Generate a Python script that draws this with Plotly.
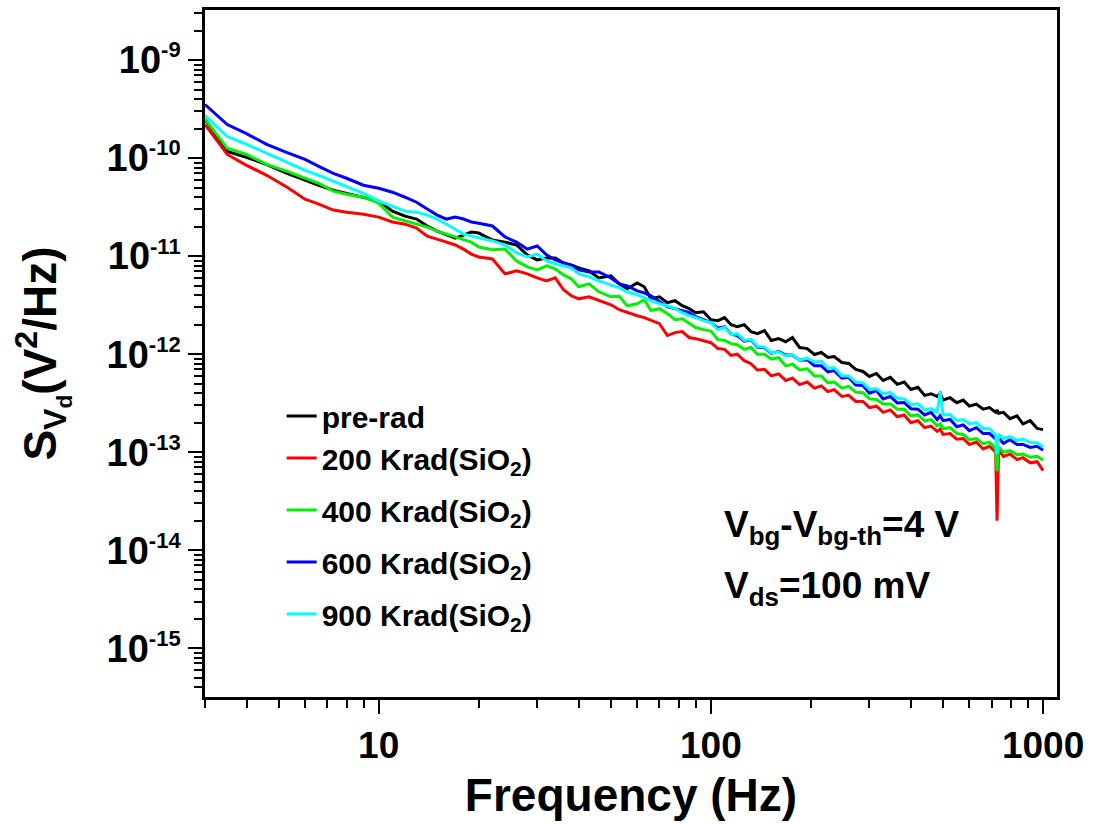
import plotly.graph_objects as go

freq = [3, 3.5, 4, 4.6, 5.3, 6, 6.6, 7.3, 8, 9,
        10, 11, 12, 13, 14, 15, 16, 17, 18, 19, 20,
        22, 24, 26, 28, 30, 32, 34, 36, 38, 40,
        43, 46, 50, 53, 56, 60, 63, 66, 70, 74,
        78, 82, 86, 90, 95, 100, 105, 110, 115, 120,
        126, 132, 138, 145, 152, 160, 168, 176, 185, 195,
        205, 215, 225, 235, 248, 260, 273, 287, 300, 315,
        330, 347, 364, 382, 400, 420, 440, 460, 480, 490,
        500, 525, 550, 575, 600, 630, 660, 690, 720, 727,
        735, 760, 795, 835, 870, 915, 960, 1000]

s_prerad = [2.48e-10, 1.17e-10, 1.02e-10, 8.6e-11, 7.0e-11, 5.94e-11, 5.29e-11, 4.70e-11, 4.38e-11, 3.99e-11,
            3.64e-11, 2.88e-11, 2.56e-11, 2.39e-11, 2.03e-11, 1.80e-11, 1.64e-11, 1.53e-11, 1.64e-11, 1.76e-11, 1.72e-11,
            1.46e-11, 1.39e-11, 1.30e-11, 1.03e-11, 9.15e-12, 9.59e-12, 9.6e-12, 8.53e-12, 8.14e-12, 7.59e-12,
            7.07e-12, 6.00e-12, 6.29e-12, 5.22e-12, 4.64e-12, 5.34e-12, 4.87e-12, 3.67e-12, 3.85e-12, 3.35e-12,
            3.51e-12, 3.12e-12, 2.91e-12, 2.65e-12, 2.71e-12, 2.25e-12, 2.20e-12, 2.36e-12, 2.00e-12, 1.91e-12,
            2.00e-12, 1.70e-12, 1.62e-12, 1.74e-12, 1.38e-12, 1.44e-12, 1.34e-12, 1.48e-12, 1.17e-12, 1.14e-12,
            9.92e-13, 1.04e-12, 9.25e-13, 9.46e-13, 8.23e-13, 8.04e-13, 6.98e-13, 6.66e-13, 5.93e-13, 6.36e-13,
            5.4e-13, 5.8e-13, 4.92e-13, 5.2e-13, 4.37e-13, 4.6e-13, 3.80e-13, 3.95e-13, 3.7e-13, 4.0e-13,
            3.4e-13, 3.6e-13, 3.2e-13, 3.4e-13, 2.95e-13, 3.1e-13, 2.75e-13, 2.85e-13, 2.55e-13, 2.7e-13,
            2.5e-13, 2.55e-13, 2.2e-13, 2.35e-13, 1.95e-13, 2.1e-13, 1.75e-13, 1.7e-13]

s_200k = [2.20e-10, 1.09e-10, 8.44e-11, 6.68e-11, 5.05e-11, 3.81e-11, 3.39e-11, 2.95e-11, 2.81e-11, 2.68e-11,
          2.50e-11, 2.23e-11, 2.12e-11, 1.93e-11, 1.60e-11, 1.50e-11, 1.39e-11, 1.30e-11, 1.18e-11, 1.05e-11, 9.81e-12,
          9.37e-12, 6.59e-12, 7.07e-12, 6.59e-12, 6.00e-12, 5.60e-12, 6.00e-12, 4.54e-12, 3.94e-12, 3.67e-12,
          3.85e-12, 3.51e-12, 3.19e-12, 2.84e-12, 2.65e-12, 2.47e-12, 2.36e-12, 2.20e-12, 2.05e-12, 1.55e-12,
          1.66e-12, 1.70e-12, 1.48e-12, 1.44e-12, 1.38e-12, 1.31e-12, 1.14e-12, 1.12e-12, 9.7e-13, 1.0e-12,
          8.6e-13, 8.0e-13, 6.9e-13, 7.0e-13, 6.0e-13, 6.3e-13, 5.4e-13, 5.7e-13, 4.9e-13, 5.2e-13,
          4.5e-13, 4.75e-13, 4.15e-13, 4.35e-13, 3.7e-13, 3.8e-13, 3.3e-13, 3.3e-13, 2.85e-13, 2.95e-13,
          2.55e-13, 2.7e-13, 2.3e-13, 2.4e-13, 2.0e-13, 2.1e-13, 1.78e-13, 1.85e-13, 1.63e-13, 1.72e-13,
          1.52e-13, 1.55e-13, 1.36e-13, 1.38e-13, 1.2e-13, 1.27e-13, 1.08e-13, 1.15e-13, 1.0e-13, 2.0e-14,
          1.06e-13, 9.0e-14, 9.6e-14, 8.4e-14, 8.8e-14, 7.8e-14, 8.0e-14, 6.5e-14]

s_400k = [2.5e-10, 1.26e-10, 1.09e-10, 8.64e-11, 7.34e-11, 6.23e-11, 5.54e-11, 4.60e-11, 4.28e-11, 3.99e-11,
          3.47e-11, 2.50e-11, 2.28e-11, 2.12e-11, 1.98e-11, 1.80e-11, 1.68e-11, 1.57e-11, 1.50e-11, 1.39e-11, 1.24e-11,
          1.16e-11, 1.18e-11, 8.94e-12, 7.77e-12, 7.24e-12, 7.95e-12, 7.41e-12, 6.44e-12, 5.87e-12, 4.87e-12,
          5.22e-12, 4.33e-12, 3.85e-12, 3.9e-12, 3.12e-12, 3.27e-12, 3.59e-12, 2.78e-12, 2.91e-12, 2.59e-12,
          2.25e-12, 2.30e-12, 2.05e-12, 1.87e-12, 1.78e-12, 1.72e-12, 1.41e-12, 1.38e-12, 1.28e-12, 1.25e-12,
          1.12e-12, 1.17e-12, 1.0e-12, 1.0e-12, 8.9e-13, 9.2e-13, 7.6e-13, 7.9e-13, 6.9e-13, 7.1e-13,
          6.0e-13, 6.0e-13, 5.1e-13, 5.2e-13, 4.5e-13, 4.7e-13, 4.1e-13, 4.05e-13, 3.5e-13, 3.45e-13,
          3.1e-13, 3.1e-13, 2.75e-13, 2.75e-13, 2.35e-13, 2.4e-13, 2.08e-13, 2.15e-13, 1.86e-13, 1.95e-13,
          1.74e-13, 1.78e-13, 1.55e-13, 1.52e-13, 1.34e-13, 1.38e-13, 1.22e-13, 1.26e-13, 1.1e-13, 6.4e-14,
          1.13e-13, 1.0e-13, 1.04e-13, 9.4e-14, 9.6e-14, 8.9e-14, 9.1e-14, 8.3e-14]

s_600k = [3.52e-10, 2.20e-10, 1.78e-10, 1.38e-10, 1.14e-10, 9.71e-11, 8.25e-11, 7.00e-11, 6.23e-11, 5.29e-11,
          4.93e-11, 4.49e-11, 3.99e-11, 3.55e-11, 3.02e-11, 2.62e-11, 2.39e-11, 2.50e-11, 2.39e-11, 2.23e-11, 2.17e-11,
          2.03e-11, 1.57e-11, 1.39e-11, 1.18e-11, 1.27e-11, 1.03e-11, 9.15e-12, 8.53e-12, 7.95e-12, 7.24e-12,
          6.91e-12, 6.91e-12, 6.00e-12, 5.22e-12, 4.98e-12, 4.43e-12, 4.23e-12, 3.94e-12, 3.42e-12, 3.05e-12,
          2.91e-12, 2.78e-12, 2.65e-12, 2.41e-12, 2.25e-12, 2.1e-12, 1.85e-12, 1.9e-12, 1.6e-12, 1.55e-12,
          1.36e-12, 1.4e-12, 1.18e-12, 1.16e-12, 1.02e-12, 1.07e-12, 9.8e-13, 9.8e-13, 8.7e-13, 8.8e-13,
          7.6e-13, 7.6e-13, 6.6e-13, 6.8e-13, 5.7e-13, 5.8e-13, 4.85e-13, 4.8e-13, 4.0e-13, 4.25e-13,
          3.5e-13, 3.7e-13, 3.18e-13, 3.22e-13, 2.78e-13, 2.75e-13, 2.4e-13, 2.55e-13, 2.15e-13, 2.35e-13,
          2.1e-13, 2.16e-13, 1.82e-13, 1.9e-13, 1.66e-13, 1.78e-13, 1.55e-13, 1.55e-13, 1.37e-13, 1.4e-13,
          1.4e-13, 1.23e-13, 1.34e-13, 1.2e-13, 1.2e-13, 1.12e-13, 1.15e-13, 1.05e-13]

s_900k = [2.72e-10, 1.66e-10, 1.38e-10, 1.12e-10, 9.05e-11, 7.51e-11, 6.68e-11, 5.80e-11, 5.16e-11, 4.38e-11,
          3.64e-11, 3.24e-11, 2.88e-11, 2.81e-11, 2.62e-11, 2.39e-11, 2.12e-11, 1.89e-11, 1.68e-11, 1.60e-11, 1.53e-11,
          1.43e-11, 1.30e-11, 1.08e-11, 9.81e-12, 1.05e-11, 8.94e-12, 8.33e-12, 7.95e-12, 7.59e-12, 6.59e-12,
          6.15e-12, 5.60e-12, 5.10e-12, 4.75e-12, 4.33e-12, 4.04e-12, 3.76e-12, 3.51e-12, 3.27e-12, 3.12e-12,
          2.91e-12, 2.65e-12, 2.47e-12, 2.36e-12, 2.20e-12, 2.1e-12, 1.78e-12, 1.88e-12, 1.58e-12, 1.62e-12,
          1.38e-12, 1.42e-12, 1.2e-12, 1.18e-12, 1.03e-12, 1.06e-12, 9.6e-13, 9.9e-13, 8.7e-13, 9.1e-13,
          8.3e-13, 8.5e-13, 7.2e-13, 7.3e-13, 6.0e-13, 6.0e-13, 5.2e-13, 5.1e-13, 4.4e-13, 4.45e-13,
          3.95e-13, 4.05e-13, 3.55e-13, 3.5e-13, 3.05e-13, 3.12e-13, 2.7e-13, 2.78e-13, 2.55e-13, 4.17e-13,
          2.4e-13, 2.42e-13, 2.1e-13, 2.15e-13, 1.95e-13, 2.0e-13, 1.74e-13, 1.74e-13, 1.5e-13, 9.6e-14,
          1.53e-13, 1.38e-13, 1.44e-13, 1.32e-13, 1.36e-13, 1.26e-13, 1.25e-13, 1.13e-13]

series_names = ["pre-rad", "200 Krad(SiO<sub>2</sub>)", "400 Krad(SiO<sub>2</sub>)",
                "600 Krad(SiO<sub>2</sub>)", "900 Krad(SiO<sub>2</sub>)"]
series_values = [s_prerad, s_200k, s_400k, s_600k, s_900k]
series_colors = ["#000000", "#ff0000", "#00f000", "#0000ff", "#00ffff"]
legend_groups = ["g1", "g1", "g2", "g3", "g4"]

y_tick_vals = [1e-15, 1e-14, 1e-13, 1e-12, 1e-11, 1e-10, 1e-9]
y_tick_exps = ["-15", "-14", "-13", "-12", "-11", "-10", "-9"]
x_tick_vals = [10, 100, 1000]
x_tick_text = ["10", "100", "1000"]

FONT = "Liberation Sans, Arial, sans-serif"

fig = go.Figure()
for name, vals, col, grp in zip(series_names, series_values, series_colors, legend_groups):
    fig.add_trace(go.Scatter(x=freq, y=vals, mode="lines", name=name, legendgroup=grp,
                             line=dict(color=col, width=3)))

fig.update_layout(
    width=1094, height=825,
    margin=dict(l=205, r=37, t=7, b=128),
    paper_bgcolor="white", plot_bgcolor="white",
    font=dict(family=FONT, color="black", weight="bold"),
    showlegend=True,
    legend=dict(x=0.09, y=0.447, xanchor="left", yanchor="top",
                bgcolor="rgba(0,0,0,0)", font=dict(size=30, family=FONT, weight="bold"),
                tracegroupgap=10, itemwidth=30, traceorder="grouped"),
)

fig.update_xaxes(
    type="log", range=[0.4771, 3.042],
    showgrid=False, zeroline=False,
    showline=True, linecolor="black", linewidth=2.5, mirror=True,
    ticks="outside", ticklen=14, tickwidth=2, tickcolor="black",
    tickvals=x_tick_vals, ticktext=x_tick_text,
    tickfont=dict(size=37, family=FONT, weight="bold"),
    minor=dict(ticks="outside", ticklen=8, tickwidth=2, tickcolor="black", dtick="D1", showgrid=False),
    title=dict(text="Frequency (Hz)", font=dict(size=46, family=FONT, weight="bold"), standoff=14),
)

fig.update_yaxes(
    type="log", range=[-15.497, -8.489],
    showgrid=False, zeroline=False,
    showline=True, linecolor="black", linewidth=2.5, mirror=True,
    ticks="outside", ticklen=14, tickwidth=2, tickcolor="black",
    tickvals=y_tick_vals,
    ticktext=["10<sup><span style='font-size:22px'>%s</span></sup>" % e for e in y_tick_exps],
    tickfont=dict(size=38, family=FONT, weight="bold"),
    minor=dict(ticks="outside", ticklen=8, tickwidth=2, tickcolor="black", dtick="D1", showgrid=False),
    title=dict(text="S<sub>V<sub>d</sub></sub>(V<sup>2</sup>/Hz)",
               font=dict(size=46, family=FONT, weight="bold"), standoff=36),
)

fig.add_annotation(xref="paper", yref="paper", x=0.607, y=0.248, xanchor="left", yanchor="middle",
                   text="V<sub>bg</sub>-V<sub>bg-th</sub>=4 V", showarrow=False,
                   font=dict(size=37, family=FONT, weight="bold", color="black"))
fig.add_annotation(xref="paper", yref="paper", x=0.607, y=0.158, xanchor="left", yanchor="middle",
                   text="V<sub>ds</sub>=100 mV", showarrow=False,
                   font=dict(size=37, family=FONT, weight="bold", color="black"))

fig.write_html("out.html")
